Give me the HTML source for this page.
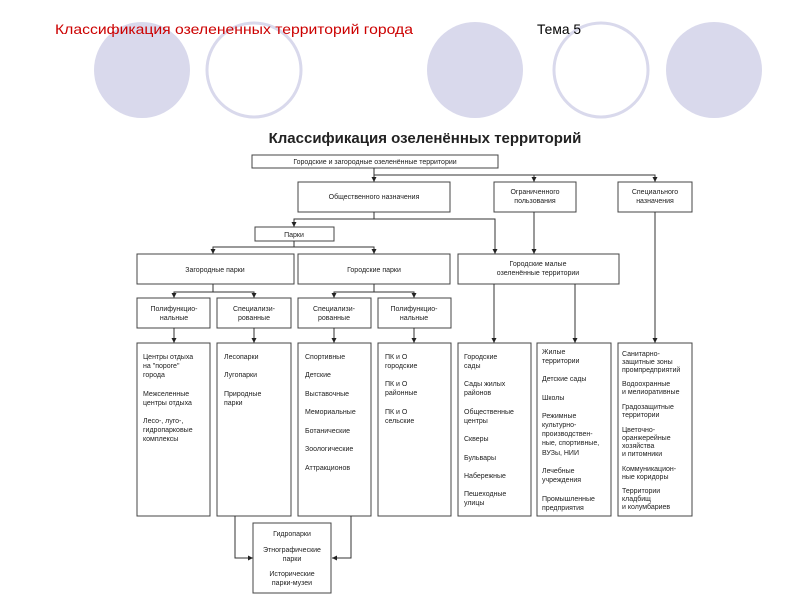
<!DOCTYPE html>
<html><head><meta charset="utf-8"><style>
html,body{margin:0;padding:0;background:#fff;width:800px;height:600px;overflow:hidden}
svg{display:block}
.t{font-family:"Liberation Sans",sans-serif;font-size:7px;fill:#222}
.b{fill:#fff;stroke:#444;stroke-width:1}
.l{stroke:#333;stroke-width:1;fill:none}
</style></head><body>
<svg width="800" height="600" viewBox="0 0 800 600" xmlns="http://www.w3.org/2000/svg">
<defs><marker id="a" markerWidth="6" markerHeight="6" refX="5" refY="3" orient="auto" markerUnits="userSpaceOnUse"><path d="M0,0.5 L5,3 L0,5.5z" fill="#222"/></marker></defs>
<ellipse cx="142" cy="70" rx="48" ry="48" fill="#d9d9ec"/>
<ellipse cx="254" cy="70" rx="47" ry="47" fill="#fff" stroke="#d9d9ec" stroke-width="3"/>
<ellipse cx="475" cy="70" rx="48" ry="48" fill="#d9d9ec"/>
<ellipse cx="601" cy="70" rx="47" ry="47" fill="#fff" stroke="#d9d9ec" stroke-width="3"/>
<ellipse cx="714" cy="70" rx="48" ry="48" fill="#d9d9ec"/>
<text x="55" y="34" font-family="Liberation Sans,sans-serif" font-size="14" fill="#cc0000" textLength="358" lengthAdjust="spacingAndGlyphs">Классификация озелененных территорий города</text>
<text x="537" y="34" font-family="Liberation Sans,sans-serif" font-size="14" fill="#000" textLength="44" lengthAdjust="spacingAndGlyphs">Тема 5</text>
<text x="425" y="143" text-anchor="middle" font-family="Liberation Sans,sans-serif" font-size="15" font-weight="bold" fill="#222">Классификация озеленённых территорий</text>

<rect class="b" x="252" y="155" width="246" height="13"/>
<text class="t" x="375" y="164" text-anchor="middle">Городские и загородные озеленённые территории</text>
<path class="l" d="M374,168 V182" marker-end="url(#a)"/>
<path class="l" d="M374,175 H655 V182" marker-end="url(#a)"/>
<path class="l" d="M534,175 V182" marker-end="url(#a)"/>

<rect class="b" x="298" y="182" width="152" height="30"/>
<text class="t" x="374" y="199" text-anchor="middle">Общественного назначения</text>
<rect class="b" x="494" y="182" width="82" height="30"/>
<text class="t" x="535" y="194" text-anchor="middle">Ограниченного</text>
<text class="t" x="535" y="203" text-anchor="middle">пользования</text>
<rect class="b" x="618" y="182" width="74" height="30"/>
<text class="t" x="655" y="194" text-anchor="middle">Специального</text>
<text class="t" x="655" y="203" text-anchor="middle">назначения</text>

<path class="l" d="M374,212 V219 H294 V227" marker-end="url(#a)"/>
<path class="l" d="M374,219 H495 V254" marker-end="url(#a)"/>
<path class="l" d="M534,212 V254" marker-end="url(#a)"/>
<path class="l" d="M655,212 V343" marker-end="url(#a)"/>

<rect class="b" x="255" y="227" width="79" height="14"/>
<text class="t" x="294" y="237" text-anchor="middle">Парки</text>
<path class="l" d="M294,241 V247 H213 V254" marker-end="url(#a)"/>
<path class="l" d="M294,247 H374 V254" marker-end="url(#a)"/>

<rect class="b" x="137" y="254" width="157" height="30"/>
<text class="t" x="215" y="272" text-anchor="middle">Загородные парки</text>
<rect class="b" x="298" y="254" width="152" height="30"/>
<text class="t" x="374" y="272" text-anchor="middle">Городские парки</text>
<rect class="b" x="458" y="254" width="161" height="30"/>
<text class="t" x="538" y="266" text-anchor="middle">Городские малые</text>
<text class="t" x="538" y="275" text-anchor="middle">озеленённые территории</text>

<path class="l" d="M213,284 V292 H174 V298" marker-end="url(#a)"/>
<path class="l" d="M213,292 H254 V298" marker-end="url(#a)"/>
<path class="l" d="M374,284 V292 H334 V298" marker-end="url(#a)"/>
<path class="l" d="M374,292 H414 V298" marker-end="url(#a)"/>

<rect class="b" x="137" y="298" width="73" height="30"/>
<text class="t" x="174" y="311" text-anchor="middle">Полифункцио-</text>
<text class="t" x="174" y="320" text-anchor="middle">нальные</text>
<rect class="b" x="217" y="298" width="74" height="30"/>
<text class="t" x="254" y="311" text-anchor="middle">Специализи-</text>
<text class="t" x="254" y="320" text-anchor="middle">рованные</text>
<rect class="b" x="298" y="298" width="73" height="30"/>
<text class="t" x="334" y="311" text-anchor="middle">Специализи-</text>
<text class="t" x="334" y="320" text-anchor="middle">рованные</text>
<rect class="b" x="378" y="298" width="73" height="30"/>
<text class="t" x="414" y="311" text-anchor="middle">Полифункцио-</text>
<text class="t" x="414" y="320" text-anchor="middle">нальные</text>

<path class="l" d="M174,328 V343" marker-end="url(#a)"/>
<path class="l" d="M254,328 V343" marker-end="url(#a)"/>
<path class="l" d="M334,328 V343" marker-end="url(#a)"/>
<path class="l" d="M414,328 V343" marker-end="url(#a)"/>
<path class="l" d="M494,284 V343" marker-end="url(#a)"/>
<path class="l" d="M575,284 V343" marker-end="url(#a)"/>

<rect class="b" x="137" y="343" width="73" height="173"/>
<rect class="b" x="217" y="343" width="74" height="173"/>
<rect class="b" x="298" y="343" width="73" height="173"/>
<rect class="b" x="378" y="343" width="73" height="173"/>
<rect class="b" x="458" y="343" width="73" height="173"/>
<rect class="b" x="537" y="343" width="74" height="173"/>
<rect class="b" x="618" y="343" width="74" height="173"/>

<g class="t">
<text x="143" y="359">Центры отдыха</text><text x="143" y="368">на "пороге"</text><text x="143" y="377">города</text>
<text x="143" y="396">Межселенные</text><text x="143" y="405">центры отдыха</text>
<text x="143" y="423">Лесо-, луго-,</text><text x="143" y="432">гидропарковые</text><text x="143" y="441">комплексы</text>

<text x="224" y="359">Лесопарки</text><text x="224" y="377">Лугопарки</text><text x="224" y="396">Природные</text><text x="224" y="405">парки</text>

<text x="305" y="359">Спортивные</text><text x="305" y="377">Детские</text><text x="305" y="396">Выставочные</text><text x="305" y="414">Мемориальные</text><text x="305" y="433">Ботанические</text><text x="305" y="451">Зоологические</text><text x="305" y="470">Аттракционов</text>

<text x="385" y="359">ПК и О</text><text x="385" y="368">городские</text><text x="385" y="386">ПК и О</text><text x="385" y="395">районные</text><text x="385" y="414">ПК и О</text><text x="385" y="423">сельские</text>

<text x="464" y="359">Городские</text><text x="464" y="368">сады</text><text x="464" y="386">Сады жилых</text><text x="464" y="395">районов</text><text x="464" y="414">Общественные</text><text x="464" y="423">центры</text><text x="464" y="441">Скверы</text><text x="464" y="460">Бульвары</text><text x="464" y="478">Набережные</text><text x="464" y="496">Пешеходные</text><text x="464" y="505">улицы</text>

<text x="542" y="354">Жилые</text><text x="542" y="363">территории</text><text x="542" y="381">Детские сады</text><text x="542" y="400">Школы</text><text x="542" y="418">Режимные</text><text x="542" y="427">культурно-</text><text x="542" y="436">производствен-</text><text x="542" y="445">ные, спортивные,</text><text x="542" y="455">ВУЗы, НИИ</text><text x="542" y="473">Лечебные</text><text x="542" y="482">учреждения</text><text x="542" y="501">Промышленные</text><text x="542" y="510">предприятия</text>

<text x="622" y="356">Санитарно-</text><text x="622" y="364">защитные зоны</text><text x="622" y="372">промпредприятий</text><text x="622" y="386">Водоохранные</text><text x="622" y="394">и мелиоративные</text><text x="622" y="409">Градозащитные</text><text x="622" y="417">территории</text><text x="622" y="432">Цветочно-</text><text x="622" y="440">оранжерейные</text><text x="622" y="448">хозяйства</text><text x="622" y="456">и питомники</text><text x="622" y="471">Коммуникацион-</text><text x="622" y="479">ные коридоры</text><text x="622" y="493">Территории</text><text x="622" y="501">кладбищ</text><text x="622" y="509">и колумбариев</text>
</g>

<path class="l" d="M235,516 V558 H253" marker-end="url(#a)"/>
<path class="l" d="M351,516 V558 H332" marker-end="url(#a)"/>
<rect class="b" x="253" y="523" width="78" height="70"/>
<g class="t" text-anchor="middle">
<text x="292" y="536">Гидропарки</text>
<text x="292" y="552">Этнографические</text><text x="292" y="561">парки</text>
<text x="292" y="576">Исторические</text><text x="292" y="585">парки-музеи</text>
</g>
</svg>
</body></html>
